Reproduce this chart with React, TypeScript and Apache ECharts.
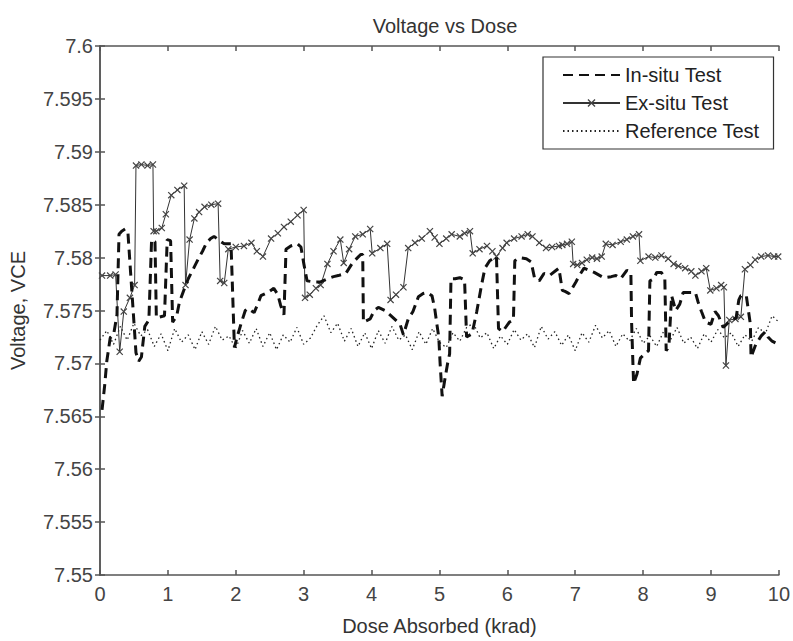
import React, { useEffect, useRef } from "react";
import * as echarts from "echarts";

const chartTitle = "Voltage vs Dose";
const xAxisName = "Dose Absorbed (krad)";
const yAxisName = "Voltage, VCE";
const seriesNames = ["In-situ Test", "Ex-situ Test", "Reference Test"];

// [dose (krad), voltage (V)]
const inSitu: [number, number][] = [
  [0.03, 7.5656], [0.07, 7.568], [0.1, 7.5702], [0.15, 7.5724], [0.2, 7.5727], [0.25, 7.5746],
  [0.28, 7.5822], [0.32, 7.5825], [0.37, 7.5827], [0.41, 7.5825], [0.53, 7.571], [0.57, 7.5702],
  [0.61, 7.5706], [0.66, 7.5735], [0.72, 7.5741], [0.76, 7.5817], [0.81, 7.5815], [0.83, 7.5743],
  [0.95, 7.5745], [0.99, 7.5817], [1.04, 7.5816], [1.07, 7.5739], [1.13, 7.5745], [1.17, 7.5758],
  [1.24, 7.577], [1.3, 7.578], [1.38, 7.579], [1.45, 7.5799], [1.51, 7.5806], [1.57, 7.5814],
  [1.63, 7.5818], [1.68, 7.582], [1.76, 7.5816], [1.83, 7.5813], [1.93, 7.5813], [1.98, 7.5715],
  [2.02, 7.5725], [2.08, 7.5738], [2.14, 7.575], [2.18, 7.5752], [2.27, 7.5748], [2.33, 7.5757],
  [2.37, 7.5764], [2.47, 7.5767], [2.56, 7.5771], [2.62, 7.5765], [2.66, 7.5755], [2.71, 7.5746],
  [2.74, 7.5808], [2.81, 7.5811], [2.91, 7.5813], [2.96, 7.581], [3.0, 7.5795], [3.05, 7.5778],
  [3.15, 7.5777], [3.25, 7.5777], [3.35, 7.578], [3.44, 7.5782], [3.51, 7.5783], [3.62, 7.5785],
  [3.72, 7.5795], [3.84, 7.5803], [3.87, 7.5803], [3.88, 7.5739], [3.98, 7.5742], [4.04, 7.575],
  [4.1, 7.5753], [4.2, 7.575], [4.32, 7.5743], [4.42, 7.5737], [4.47, 7.5727], [4.54, 7.5742],
  [4.61, 7.5749], [4.69, 7.5763], [4.76, 7.5766], [4.82, 7.5767], [4.89, 7.5764], [4.93, 7.5752],
  [4.96, 7.5738], [4.99, 7.5725], [5.01, 7.57], [5.04, 7.5669], [5.08, 7.5685], [5.12, 7.57],
  [5.15, 7.5709], [5.17, 7.578], [5.23, 7.578], [5.3, 7.5781], [5.37, 7.5779], [5.4, 7.5725],
  [5.48, 7.5728], [5.55, 7.5749], [5.62, 7.5774], [5.67, 7.579], [5.74, 7.5797], [5.84, 7.5801],
  [5.87, 7.5733], [5.93, 7.573], [6.03, 7.5739], [6.09, 7.5741], [6.11, 7.5797], [6.18, 7.58],
  [6.28, 7.5799], [6.35, 7.5796], [6.4, 7.5781], [6.47, 7.5778], [6.54, 7.5785], [6.62, 7.5783],
  [6.72, 7.5788], [6.76, 7.579], [6.81, 7.5769], [6.85, 7.5768], [6.91, 7.5766], [7.01, 7.5777],
  [7.06, 7.5783], [7.13, 7.579], [7.28, 7.5786], [7.42, 7.5781], [7.53, 7.5782], [7.6, 7.5783],
  [7.67, 7.578], [7.76, 7.5788], [7.82, 7.5786], [7.83, 7.574], [7.85, 7.57], [7.86, 7.5681],
  [7.91, 7.569], [7.96, 7.5705], [8.04, 7.571], [8.08, 7.5712], [8.1, 7.5778], [8.16, 7.578],
  [8.2, 7.5786], [8.27, 7.5786], [8.32, 7.578], [8.34, 7.5712], [8.38, 7.5716], [8.42, 7.5764],
  [8.48, 7.575], [8.54, 7.5756], [8.59, 7.5767], [8.67, 7.5767], [8.77, 7.5767], [8.81, 7.5758],
  [8.86, 7.5749], [8.92, 7.5739], [9.0, 7.5737], [9.06, 7.5749], [9.11, 7.5745], [9.18, 7.5734],
  [9.28, 7.574], [9.37, 7.5743], [9.41, 7.576], [9.44, 7.5764], [9.52, 7.5764], [9.58, 7.5737],
  [9.59, 7.5706], [9.66, 7.5718], [9.74, 7.5726], [9.8, 7.573], [9.84, 7.5725], [9.9, 7.5721],
  [9.99, 7.5718],
];

const exSitu: [number, number][] = [
  [0.03, 7.5783], [0.15, 7.5783], [0.23, 7.5784], [0.29, 7.5711], [0.35, 7.5749], [0.44, 7.5762],
  [0.51, 7.5774], [0.53, 7.5887], [0.61, 7.5888], [0.7, 7.5887], [0.78, 7.5888], [0.79, 7.5825],
  [0.83, 7.5825], [0.91, 7.5828], [0.97, 7.5841], [1.05, 7.5859], [1.14, 7.5864], [1.24, 7.5868],
  [1.26, 7.5774], [1.32, 7.5817], [1.39, 7.5837], [1.46, 7.5843], [1.54, 7.5848], [1.64, 7.585],
  [1.74, 7.5851], [1.77, 7.5778], [1.83, 7.5776], [1.89, 7.5808], [2.0, 7.581], [2.12, 7.5811],
  [2.23, 7.5814], [2.31, 7.5806], [2.4, 7.5801], [2.52, 7.5818], [2.62, 7.5823], [2.71, 7.5829],
  [2.81, 7.5834], [2.91, 7.584], [3.0, 7.5845], [3.02, 7.5762], [3.09, 7.5765], [3.18, 7.5771],
  [3.25, 7.5774], [3.35, 7.5794], [3.44, 7.5806], [3.54, 7.5817], [3.59, 7.5795], [3.67, 7.5808],
  [3.76, 7.582], [3.87, 7.5822], [3.98, 7.5827], [4.01, 7.5804], [4.13, 7.5809], [4.23, 7.5813],
  [4.28, 7.576], [4.36, 7.5765], [4.47, 7.5772], [4.54, 7.5809], [4.64, 7.5814], [4.74, 7.5818],
  [4.86, 7.5825], [4.93, 7.5819], [5.0, 7.5813], [5.1, 7.5818], [5.18, 7.5822], [5.3, 7.582],
  [5.37, 7.5823], [5.45, 7.5825], [5.49, 7.5804], [5.59, 7.5808], [5.7, 7.5811], [5.78, 7.5806],
  [5.84, 7.5801], [5.93, 7.5809], [5.99, 7.5814], [6.1, 7.5818], [6.21, 7.582], [6.3, 7.5822],
  [6.37, 7.582], [6.47, 7.5814], [6.57, 7.5809], [6.66, 7.581], [6.76, 7.5811], [6.81, 7.5812],
  [6.88, 7.5813], [6.95, 7.5815], [6.97, 7.5794], [7.03, 7.5793], [7.1, 7.5795], [7.17, 7.5798],
  [7.25, 7.58], [7.32, 7.5799], [7.39, 7.5801], [7.45, 7.5813], [7.55, 7.5812], [7.67, 7.5815],
  [7.76, 7.5817], [7.85, 7.582], [7.94, 7.5822], [7.96, 7.5797], [8.08, 7.5801], [8.18, 7.58],
  [8.27, 7.5802], [8.37, 7.5799], [8.45, 7.5794], [8.52, 7.5792], [8.62, 7.579], [8.71, 7.5787],
  [8.77, 7.5783], [8.86, 7.5787], [8.93, 7.579], [8.99, 7.5769], [9.08, 7.5771], [9.15, 7.5774],
  [9.19, 7.5772], [9.22, 7.5698], [9.27, 7.5741], [9.36, 7.5742], [9.44, 7.5744], [9.5, 7.5789],
  [9.58, 7.5793], [9.65, 7.5798], [9.74, 7.5801], [9.84, 7.5802], [9.93, 7.5801], [9.99, 7.5801],
];

const reference: [number, number][] = [
  [0.0, 7.5722], [0.1, 7.5731], [0.2, 7.5718], [0.3, 7.5735], [0.4, 7.5722], [0.5, 7.5738],
  [0.6, 7.5726], [0.7, 7.5732], [0.8, 7.5716], [0.9, 7.5728], [1.0, 7.5712], [1.1, 7.5733],
  [1.2, 7.572], [1.3, 7.5727], [1.4, 7.5713], [1.5, 7.573], [1.6, 7.5718], [1.7, 7.5735],
  [1.8, 7.5722], [1.9, 7.5726], [2.0, 7.5714], [2.1, 7.5731], [2.2, 7.5719], [2.3, 7.5733],
  [2.4, 7.5716], [2.5, 7.5729], [2.6, 7.5713], [2.7, 7.5727], [2.8, 7.572], [2.9, 7.5734],
  [3.0, 7.5718], [3.1, 7.5724], [3.2, 7.5736], [3.3, 7.5745], [3.4, 7.5729], [3.5, 7.5738],
  [3.6, 7.5721], [3.7, 7.5733], [3.8, 7.5716], [3.9, 7.5729], [4.0, 7.5714], [4.1, 7.5731],
  [4.2, 7.5719], [4.3, 7.5735], [4.4, 7.5722], [4.5, 7.5727], [4.6, 7.5713], [4.7, 7.573],
  [4.8, 7.5718], [4.9, 7.5733], [5.0, 7.572], [5.1, 7.5715], [5.2, 7.5729], [5.3, 7.5721],
  [5.4, 7.5734], [5.5, 7.5738], [5.6, 7.5724], [5.7, 7.5729], [5.8, 7.5714], [5.9, 7.5726],
  [6.0, 7.5718], [6.1, 7.5732], [6.2, 7.5722], [6.3, 7.5728], [6.4, 7.5715], [6.5, 7.5735],
  [6.6, 7.5723], [6.7, 7.573], [6.8, 7.5717], [6.9, 7.5727], [7.0, 7.5712], [7.1, 7.5729],
  [7.2, 7.572], [7.3, 7.5736], [7.4, 7.5724], [7.5, 7.5731], [7.6, 7.5716], [7.7, 7.5728],
  [7.8, 7.5721], [7.9, 7.5733], [8.0, 7.5719], [8.1, 7.5726], [8.2, 7.5716], [8.3, 7.573],
  [8.4, 7.5722], [8.5, 7.5734], [8.6, 7.5719], [8.7, 7.5725], [8.8, 7.5714], [8.9, 7.5728],
  [9.0, 7.572], [9.1, 7.5732], [9.2, 7.5724], [9.3, 7.5729], [9.4, 7.5716], [9.5, 7.5727],
  [9.6, 7.5721], [9.7, 7.5734], [9.8, 7.5728], [9.9, 7.5745], [10.0, 7.5739],
];

const FONT = "'Liberation Sans', Arial, Helvetica, sans-serif";
const AXIS_COLOR = "#555";
const TEXT_COLOR = "#444";
const CROSS = "path://M0,1.2L1.2,0L10,8.8L8.8,10Z M8.8,0L10,1.2L1.2,10L0,8.8Z";

export default function App() {
  const ref = useRef<HTMLDivElement>(null);

  useEffect(() => {
    if (!ref.current) return;
    const chart = echarts.init(ref.current, undefined, { renderer: "svg" });

    const axisLine = { show: true, lineStyle: { color: AXIS_COLOR, width: 1.5 } };
    const axisTick = { show: true, inside: true, length: 5, lineStyle: { color: AXIS_COLOR, width: 1.5 } };
    const labelStyle = { fontSize: 20, color: TEXT_COLOR, fontFamily: FONT };
    const hiddenSymbol = { color: "transparent", borderWidth: 0, opacity: 0 };

    chart.setOption({
      animation: false,
      backgroundColor: "#fff",
      title: {
        text: chartTitle,
        left: 440,
        top: 11,
        textAlign: "center",
        textStyle: { fontSize: 20, fontWeight: "normal", color: "#333", fontFamily: FONT },
      },
      legend: {
        data: [
          { name: seriesNames[0], itemStyle: hiddenSymbol },
          { name: seriesNames[1] },
          { name: seriesNames[2], itemStyle: hiddenSymbol },
        ],
        orient: "vertical",
        left: 543,
        top: 57,
        padding: [8, 14, 8, 19],
        itemGap: 8,
        itemWidth: 57,
        itemHeight: 10,
        backgroundColor: "#fff",
        borderColor: "#333",
        borderWidth: 1.2,
        textStyle: { fontSize: 20, color: "#222", fontFamily: FONT, lineHeight: 20 },
      },
      grid: { left: 98, top: 46, right: 12, bottom: 57, containLabel: false },
      xAxis: [
        {
          type: "value",
          min: 0,
          max: 10,
          interval: 1,
          position: "bottom",
          axisLine,
          axisTick,
          splitLine: { show: false },
          axisLabel: { ...labelStyle, margin: 9 },
          name: xAxisName,
          nameLocation: "middle",
          nameGap: 41,
          nameTextStyle: { fontSize: 20, color: "#333", fontFamily: FONT },
        },
        {
          type: "value",
          min: 0,
          max: 10,
          interval: 1,
          position: "top",
          axisLine,
          axisTick,
          splitLine: { show: false },
          axisLabel: { show: false },
        },
      ],
      yAxis: [
        {
          type: "value",
          min: 7.55,
          max: 7.6,
          interval: 0.005,
          position: "left",
          axisLine,
          axisTick,
          splitLine: { show: false },
          axisLabel: {
            ...labelStyle,
            margin: 7,
            formatter: (v: number) => String(parseFloat(v.toFixed(3))),
          },
          name: yAxisName,
          nameLocation: "middle",
          nameGap: 72,
          nameTextStyle: { fontSize: 20, color: "#333", fontFamily: FONT },
        },
        {
          type: "value",
          min: 7.55,
          max: 7.6,
          interval: 0.005,
          position: "right",
          axisLine,
          axisTick,
          splitLine: { show: false },
          axisLabel: { show: false },
        },
      ],
      series: [
        {
          name: seriesNames[0],
          type: "line",
          xAxisIndex: 0,
          yAxisIndex: 0,
          data: inSitu,
          symbol: "none",
          lineStyle: { color: "#111", width: 3, type: [10, 6] },
          itemStyle: { color: "#111" },
          z: 3,
        },
        {
          name: seriesNames[1],
          type: "line",
          xAxisIndex: 0,
          yAxisIndex: 0,
          data: exSitu,
          symbol: CROSS,
          symbolSize: 7,
          showSymbol: true,
          lineStyle: { color: "#333", width: 1 },
          itemStyle: { color: "#444" },
          z: 2,
        },
        {
          name: seriesNames[2],
          type: "line",
          xAxisIndex: 0,
          yAxisIndex: 0,
          data: reference,
          symbol: "none",
          lineStyle: { color: "#222", width: 1.3, type: [1.5, 3] },
          itemStyle: { color: "#222" },
          z: 1,
        },
      ],
    });

    return () => chart.dispose();
  }, []);

  return (
    <div
      ref={ref}
      style={{ position: "absolute", left: 0, top: 0, width: 793, height: 641, background: "#fff" }}
    />
  );
}
